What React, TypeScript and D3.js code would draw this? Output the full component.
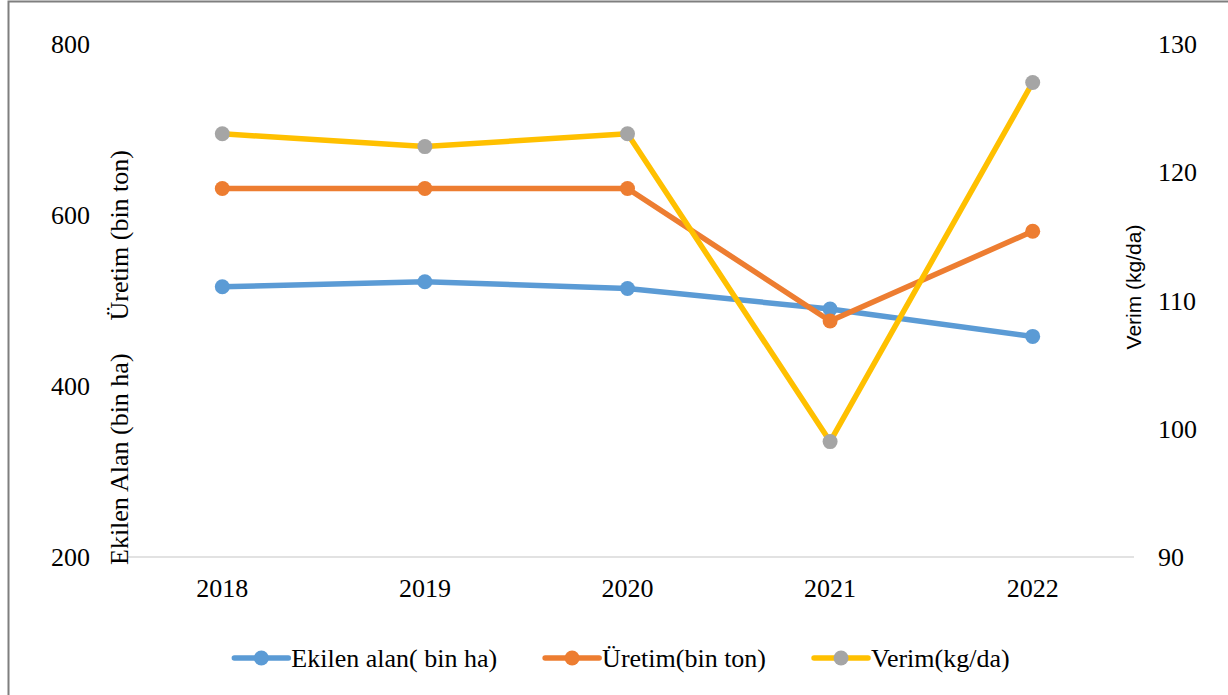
import { useEffect, useRef } from 'react';
import * as d3 from 'd3';

const years = ['2018', '2019', '2020', '2021', '2022'];
const ekilenAlan = [516, 522, 514, 490, 458];
const uretim = [631, 631, 631, 476, 581];
const verim = [123, 122, 123, 99, 127];
const leftTicks = [200, 400, 600, 800];
const rightTicks = [90, 100, 110, 120, 130];

const serif = '"Liberation Serif", "Times New Roman", serif';
const sans = '"Liberation Sans", Arial, sans-serif';

export default function App() {
  const svgRef = useRef<SVGSVGElement>(null);

  useEffect(() => {
    if (!svgRef.current) return;
    const svg = d3.select(svgRef.current);
    svg.selectAll('*').remove();

    const width = 1228;
    const height = 695;
    svg.attr('width', width).attr('height', height);

    // outer frame (right/bottom edges fall outside the picture)
    svg.append('rect')
      .attr('x', 8.5).attr('y', 1.5)
      .attr('width', width + 20).attr('height', height + 20)
      .attr('fill', '#fff')
      .attr('stroke', '#7f7f7f')
      .attr('stroke-width', 2);

    const x = d3.scaleBand<string>().domain(years).range([121, 1134]);
    const cx = (d: string) => (x(d) ?? 0) + x.bandwidth() / 2;
    const yLeft = d3.scaleLinear().domain([200, 800]).range([557, 44]);
    const yRight = d3.scaleLinear().domain([90, 130]).range([557, 44]);

    // baseline
    svg.append('line')
      .attr('x1', 128).attr('x2', 1134)
      .attr('y1', yLeft(200)).attr('y2', yLeft(200))
      .attr('stroke', '#d9d9d9').attr('stroke-width', 1.5);

    // left ticks
    svg.append('g').selectAll('text').data(leftTicks).join('text')
      .attr('x', 90).attr('y', (d) => yLeft(d) + 9)
      .attr('text-anchor', 'end')
      .attr('font-family', serif).attr('font-size', 26)
      .text((d) => d);

    // right ticks
    svg.append('g').selectAll('text').data(rightTicks).join('text')
      .attr('x', 1158).attr('y', (d) => yRight(d) + 9)
      .attr('font-family', serif).attr('font-size', 26)
      .text((d) => d);

    // x labels
    svg.append('g').selectAll('text').data(years).join('text')
      .attr('x', cx).attr('y', 597)
      .attr('text-anchor', 'middle')
      .attr('font-family', serif).attr('font-size', 26)
      .text((d) => d);

    // axis titles
    svg.append('text')
      .attr('transform', 'translate(128,565) rotate(-90)')
      .attr('font-family', serif).attr('font-size', 26)
      .text('Ekilen Alan (bin ha)');
    svg.append('text')
      .attr('transform', 'translate(128,150) rotate(-90)')
      .attr('text-anchor', 'end')
      .attr('font-family', serif).attr('font-size', 26)
      .text('Üretim (bin ton)');
    svg.append('text')
      .attr('transform', 'translate(1141,287) rotate(-90)')
      .attr('text-anchor', 'middle')
      .attr('font-family', sans).attr('font-size', 21)
      .text('Verim (kg/da)');

    const series = [
      { name: 'Ekilen alan( bin ha)', values: ekilenAlan, y: yLeft, line: '#5b9bd5', marker: '#5b9bd5' },
      { name: 'Üretim(bin ton)', values: uretim, y: yLeft, line: '#ed7d31', marker: '#ed7d31' },
      { name: 'Verim(kg/da)', values: verim, y: yRight, line: '#ffc000', marker: '#a5a5a5' },
    ];

    series.forEach((s) => {
      const pts = years.map((yr, i) => [cx(yr), s.y(s.values[i])] as [number, number]);
      svg.append('path')
        .attr('d', d3.line()(pts))
        .attr('fill', 'none')
        .attr('stroke', s.line)
        .attr('stroke-width', 5.5)
        .attr('stroke-linejoin', 'round')
        .attr('stroke-linecap', 'round');
      svg.append('g').selectAll('circle').data(pts).join('circle')
        .attr('cx', (d) => d[0]).attr('cy', (d) => d[1])
        .attr('r', 7.5)
        .attr('fill', s.marker);
    });

    // legend
    const legend = svg.append('g');
    const ly = 658;
    const items = series.map((s) => {
      const g = legend.append('g');
      g.append('line')
        .attr('x1', 0).attr('x2', 54).attr('y1', ly).attr('y2', ly)
        .attr('stroke', s.line).attr('stroke-width', 5.5).attr('stroke-linecap', 'round');
      g.append('circle').attr('cx', 27).attr('cy', ly).attr('r', 7.5).attr('fill', s.marker);
      const t = g.append('text')
        .attr('x', 57).attr('y', ly + 9)
        .attr('font-family', serif).attr('font-size', 26)
        .text(s.name);
      const w = 57 + ((t.node() as SVGTextElement).getComputedTextLength());
      return { g, w };
    });
    const gap = 48;
    const total = d3.sum(items, (d) => d.w) + gap * (items.length - 1);
    let start = 622 - total / 2;
    items.forEach((it) => {
      it.g.attr('transform', `translate(${start},0)`);
      start += it.w + gap;
    });
  }, []);

  return (
    <div style={{ position: 'absolute', left: 0, top: 0, width: 1228, height: 695, background: '#fff' }}>
      <svg ref={svgRef} style={{ display: 'block' }} />
    </div>
  );
}
